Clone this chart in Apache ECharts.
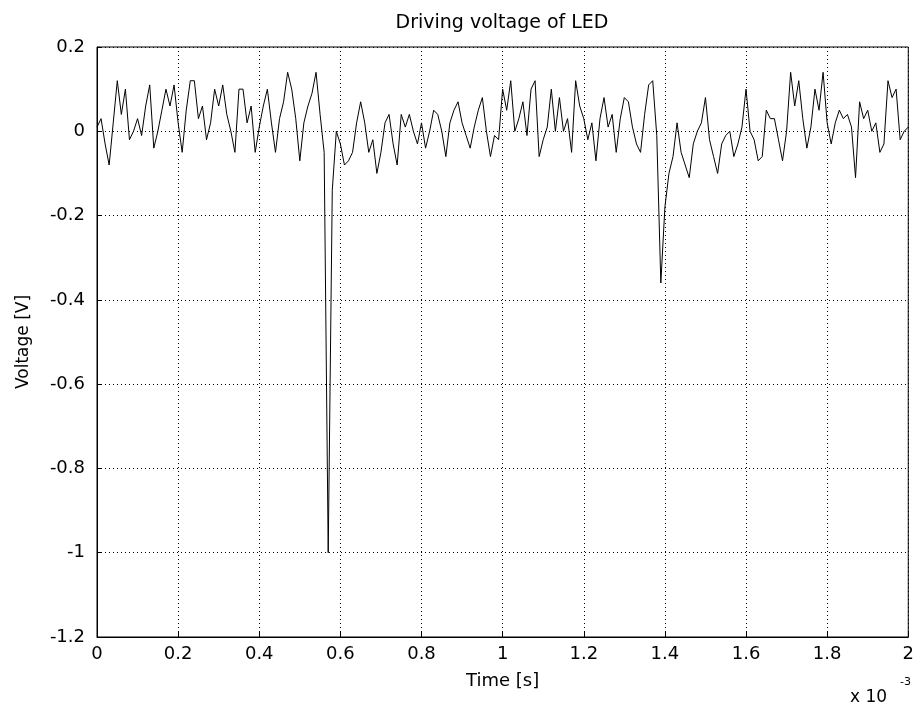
<!DOCTYPE html>
<html><head><meta charset="utf-8">
<script src="https://cdn.jsdelivr.net/npm/echarts@6/dist/echarts.min.js"></script>
<style>html,body{margin:0;padding:0;background:#fff}#c{width:917px;height:706px}</style>
</head><body><div id="c"></div>
<script>
// time step in units of 1e-3 s
const timeStep = 0.01;
// voltage samples [V], t = 0 .. 2 (x 1e-3 s)
const voltage0 = [0.01,0.03,-0.03,-0.08,0.02,0.12,0.04,0.10,-0.02,0.00,
  0.03,-0.01,0.06,0.11,-0.04,0.00,0.05,0.10,0.06,0.11,
  0.02,-0.05,0.05,0.12,0.12,0.03,0.06,-0.02,0.02,0.10,
  0.06,0.11,0.04,0.00,-0.05,0.10,0.10,0.02,0.06,-0.05,
  0.01,0.06,0.10,0.02,-0.05,0.03,0.07,0.14,0.10,0.03];
const voltage1 = [-0.07,0.02,0.06,0.09,0.14,0.04,-0.05,-1.00,-0.14,0.00,
  -0.03,-0.08,-0.07,-0.05,0.02,0.07,0.02,-0.05,-0.02,-0.10,
  -0.05,0.02,0.04,-0.03,-0.08,0.04,0.01,0.04,0.00,-0.03,
  0.02,-0.04,0.00,0.05,0.04,0.00,-0.06,0.02,0.05,0.07,
  0.02,-0.01,-0.04,0.01,0.05,0.08,0.00,-0.06,-0.01,-0.02];
const voltage2 = [0.10,0.05,0.12,0.00,0.03,0.07,-0.01,0.10,0.12,-0.06,
  -0.02,0.01,0.10,0.00,0.08,0.00,0.03,-0.05,0.12,0.06,
  0.03,-0.02,0.02,-0.07,0.03,0.08,0.01,0.04,-0.05,0.03,
  0.08,0.07,0.01,-0.03,-0.05,0.04,0.11,0.12,-0.01,-0.36,
  -0.18,-0.10,-0.06,0.02,-0.05,-0.08,-0.11,-0.03,0.00,0.02];
const voltage3 = [0.08,-0.02,-0.06,-0.10,-0.03,-0.01,0.00,-0.06,-0.03,0.01,
  0.10,0.00,-0.02,-0.07,-0.06,0.05,0.03,0.03,-0.02,-0.07,
  0.00,0.14,0.06,0.12,0.03,-0.04,0.01,0.10,0.05,0.14,
  0.02,-0.03,0.02,0.05,0.03,0.04,0.01,-0.11,0.07,0.03,
  0.05,0.00,0.02,-0.05,-0.03,0.12,0.08,0.10,-0.02,0.00,0.01];
const voltage = voltage0.concat(voltage1, voltage2, voltage3);
const xTicks = [0,0.2,0.4,0.6,0.8,1,1.2,1.4,1.6,1.8,2];
const yTicks = [0.2,0,-0.2,-0.4,-0.6,-0.8,-1,-1.2];

const seriesData = voltage.map((v,i)=>[+(i*timeStep).toFixed(3), v]);
const fmt = v => String(Math.round(v*10)/10);
const font = 'DejaVu Sans, Liberation Sans, Arial, sans-serif';

const chart = echarts.init(document.getElementById('c'), null, {renderer:'canvas'});
chart.setOption({
  animation:false,
  backgroundColor:'#fff',
  title:{text:'Driving voltage of LED', left:497, textAlign:'center', top:9,
    textStyle:{fontFamily:font, fontSize:19, fontWeight:'normal', color:'#000'}},
  grid:{left:97, right:8, top:47, bottom:69, show:true, borderColor:'#000', borderWidth:1},
  xAxis:{type:'value', min:xTicks[0], max:xTicks[xTicks.length-1], interval:0.2,
    name:'Time [s]', nameLocation:'middle', nameGap:35,
    nameTextStyle:{fontFamily:font, fontSize:18, color:'#000'},
    axisLine:{show:true, onZero:false, lineStyle:{color:'#000', width:1}},
    axisTick:{show:true, inside:true, length:5, lineStyle:{color:'#000'}},
    axisLabel:{fontFamily:font, fontSize:18, color:'#000', margin:8, formatter:fmt},
    splitLine:{show:true, lineStyle:{color:'#000', type:[1,3], width:1}}},
  yAxis:{type:'value', min:yTicks[yTicks.length-1], max:yTicks[0], interval:0.2,
    name:'Voltage [V]', nameLocation:'middle', nameGap:65, nameRotate:90,
    nameTextStyle:{fontFamily:font, fontSize:17, color:'#000'},
    axisLine:{show:true, onZero:false, lineStyle:{color:'#000', width:1}},
    axisTick:{show:true, inside:true, length:5, lineStyle:{color:'#000'}},
    axisLabel:{fontFamily:font, fontSize:18, color:'#000', margin:12, formatter:fmt},
    splitLine:{show:true, lineStyle:{color:'#000', type:[1,3], width:1}}},
  graphic:[
    {type:'text', left:850, top:689, style:{text:'x 10', fontFamily:font, fontSize:17, fill:'#000'}},
    {type:'text', left:900, top:677, style:{text:'-3', fontFamily:font, fontSize:11, fill:'#000'}}
  ],
  series:[{type:'line', data:seriesData, showSymbol:false, symbol:'none',
    lineStyle:{color:'#000', width:1}, z:5}]
});
</script></body></html>
